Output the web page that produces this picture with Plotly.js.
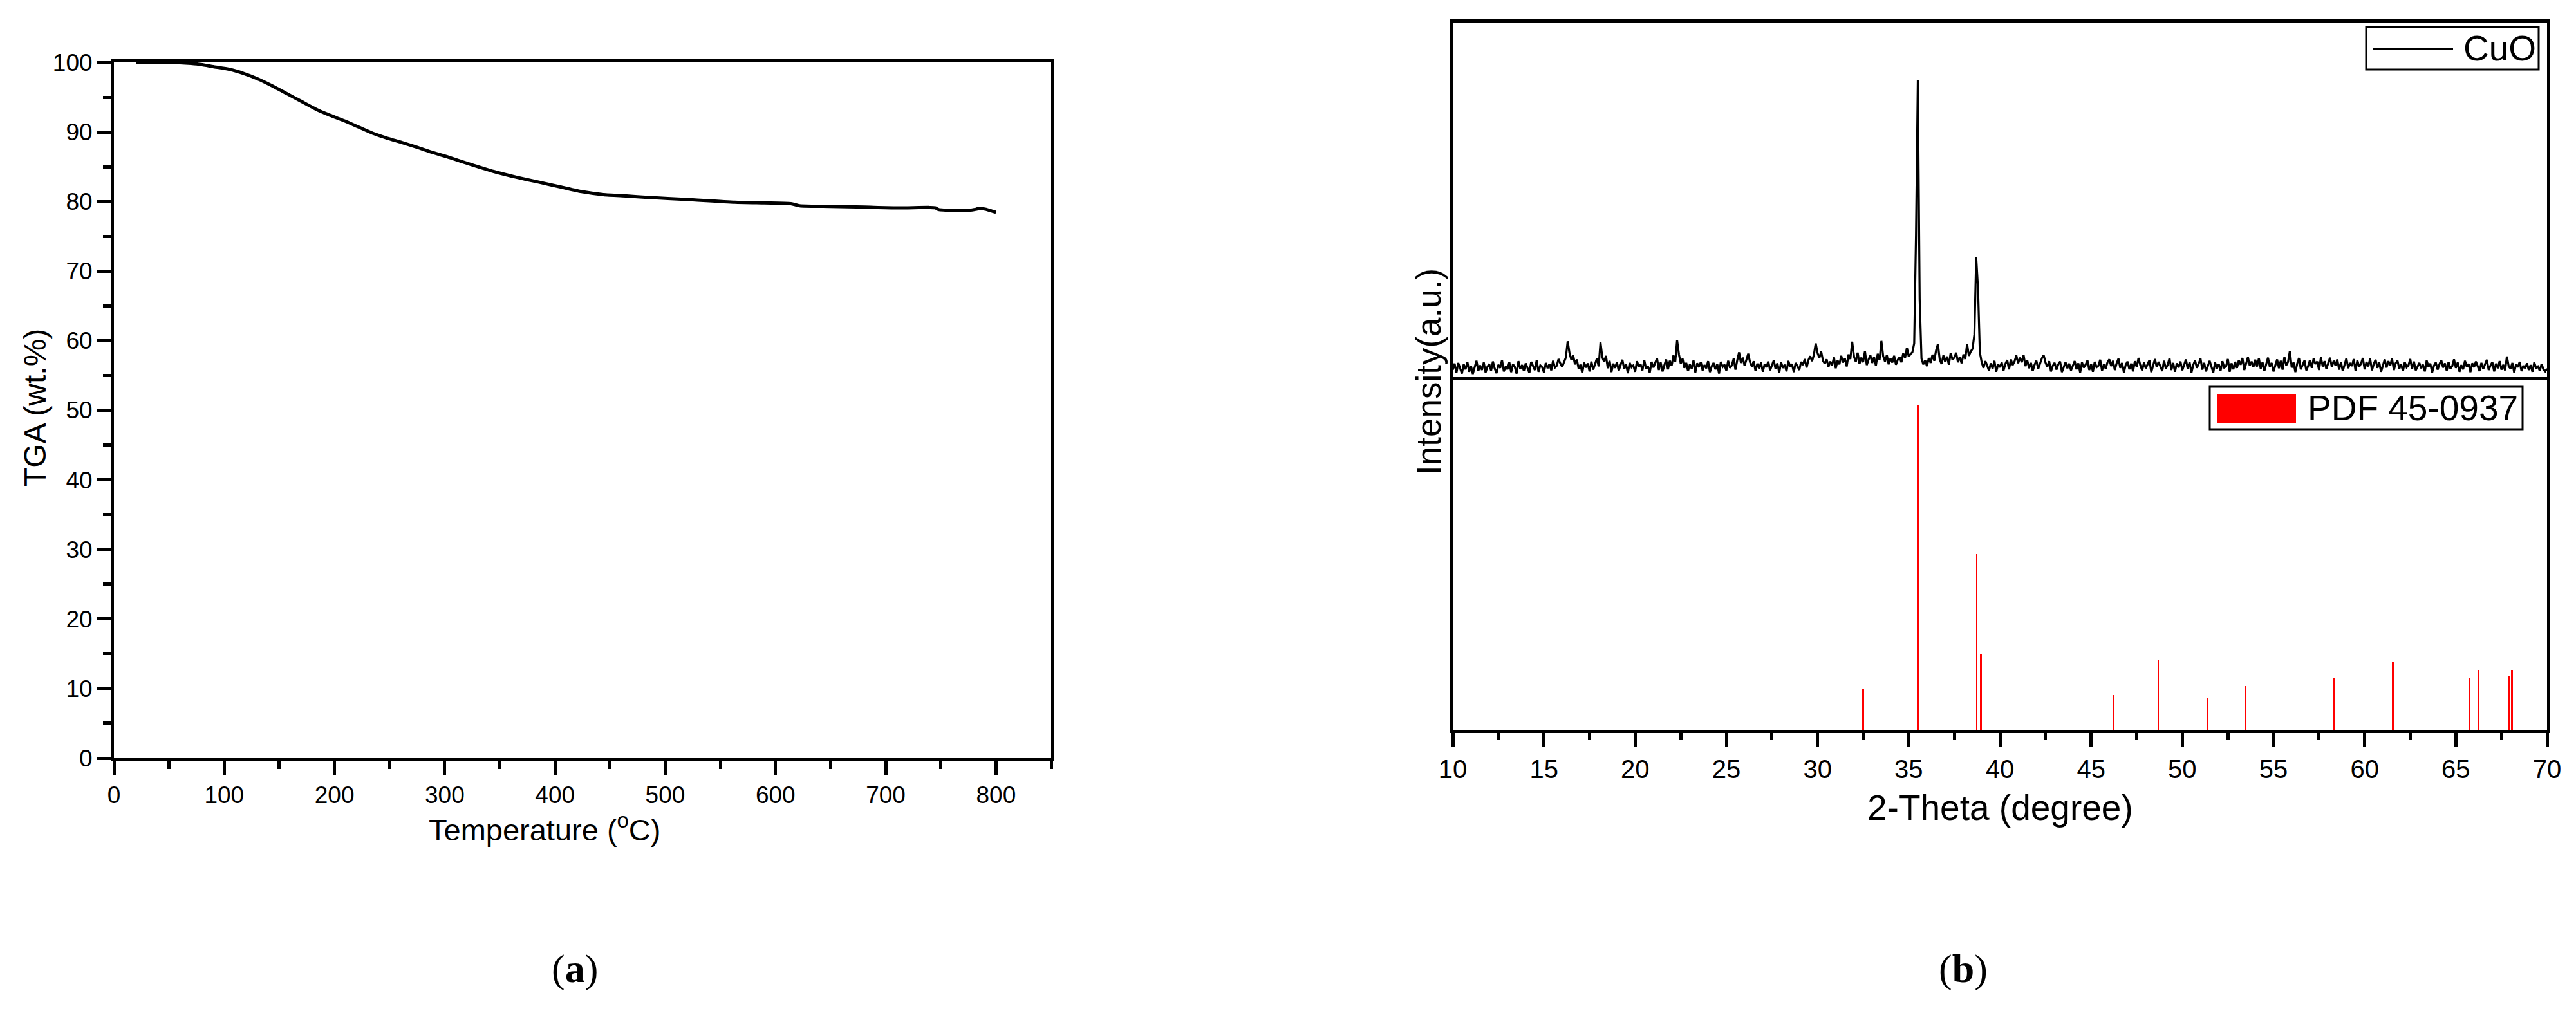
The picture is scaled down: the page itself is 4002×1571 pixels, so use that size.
<!DOCTYPE html>
<html>
<head>
<meta charset="utf-8">
<script src="https://cdn.plot.ly/plotly-3.0.1.min.js"></script>
<style>html,body{margin:0;padding:0;background:#fff;}#chart{width:4002px;height:1571px;}</style>
</head>
<body>
<div id="chart"></div>
<script>
// ---------- (a) TGA data ----------
const tgaTemperature = [20, 40, 60, 70, 79, 90, 105, 118, 131, 144, 157, 170, 183, 196, 209, 222, 235, 248, 261, 275, 288, 305, 326, 345, 365, 385, 405, 425, 444, 465, 484, 520, 563, 590, 614, 622, 650, 681, 710, 740, 745, 748, 776, 782, 786, 800];
const tgaWeight = [100, 100, 99.95, 99.85, 99.7, 99.4, 99.0, 98.4, 97.6, 96.6, 95.5, 94.4, 93.3, 92.4, 91.6, 90.7, 89.8, 89.1, 88.5, 87.8, 87.1, 86.3, 85.2, 84.3, 83.5, 82.8, 82.1, 81.4, 81.0, 80.8, 80.6, 80.3, 79.9, 79.8, 79.7, 79.4, 79.3, 79.2, 79.1, 79.15, 79.1, 78.85, 78.75, 78.9, 79.05, 78.45];

// ---------- (b) XRD data ----------
// measured CuO pattern: scan from 10 to 70 degrees 2-theta, step 0.1
const scanStart = 10;
const scanStep = 0.1;
const cuoIntensity = [
2.1,3.8,1.2,4.0,2.5,1.0,3.6,2.2,4.3,1.5,
3.1,0.9,2.8,4.6,1.7,3.3,2.0,4.1,1.3,2.9,
3.7,1.8,4.4,2.4,1.1,3.5,2.6,4.8,1.6,3.0,
2.2,4.2,1.4,3.6,2.9,1.0,4.5,2.3,3.4,1.7,
3.9,2.6,1.2,4.3,3.1,2.0,4.7,1.5,3.3,2.8,
1.3,4.0,2.5,3.7,1.9,4.6,2.7,3.2,5.1,3.8,
2.9,4.4,5.5,10.1,6.8,4.9,6.2,3.6,5.0,2.4,
3.5,1.2,4.1,2.7,3.9,1.6,4.4,2.1,3.6,5.2,
3.0,9.8,5.6,4.3,6.0,2.5,4.6,1.4,3.8,2.6,
4.2,1.8,3.4,4.9,2.3,3.7,1.1,4.0,2.8,3.3,
1.5,4.5,2.9,3.6,1.9,4.8,2.4,3.1,1.2,4.3,
2.7,3.9,5.3,2.0,4.1,1.6,3.5,5.0,2.2,4.6,
3.2,6.1,4.4,10.4,6.5,3.8,5.2,2.6,4.0,1.7,
3.6,2.4,4.7,1.3,3.9,2.8,4.2,1.9,3.4,2.5,
4.5,1.4,3.1,4.0,2.2,3.7,1.0,4.3,2.9,3.5,
1.8,4.6,2.6,3.3,5.2,2.1,4.8,7.0,4.0,5.5,
3.2,4.9,6.6,4.2,3.0,4.5,1.7,3.8,2.4,4.1,
1.5,3.6,2.8,4.4,1.9,3.3,4.7,2.3,3.9,1.2,
4.2,2.6,3.5,1.6,4.6,2.9,3.7,1.4,4.0,3.1,
2.0,4.3,3.4,5.1,2.7,4.8,5.9,4.5,6.3,9.5,
6.8,5.4,7.2,4.6,3.8,5.0,2.9,4.4,3.3,5.6,
2.5,4.7,3.6,6.0,4.1,5.3,3.0,6.4,5.1,10.0,
5.8,4.3,6.9,3.7,5.5,4.2,7.3,3.4,5.0,6.1,
4.0,5.7,3.2,6.6,4.8,10.2,5.9,4.4,6.2,3.6,
5.3,4.1,6.0,3.5,4.9,5.6,4.2,6.7,5.4,8.3,
5.8,6.5,7.0,9.5,40.0,83.7,22.0,5.2,3.6,4.8,
3.1,5.4,4.0,6.3,4.6,7.5,9.3,5.0,3.7,6.1,
4.3,5.8,3.5,6.8,4.9,5.5,6.9,4.2,5.7,3.9,
6.4,5.1,9.3,6.0,7.2,8.0,12.0,33.8,25.0,7.0,
4.2,2.6,4.5,3.3,1.8,3.9,2.4,4.6,1.5,3.6,
2.8,4.1,1.9,3.7,4.8,2.2,5.0,3.4,4.4,6.1,
3.9,5.5,4.2,6.2,3.1,4.7,2.5,4.0,1.7,3.5,
4.6,2.3,3.8,5.3,6.2,4.1,2.9,4.5,1.6,3.2,
4.0,2.1,3.6,4.4,1.4,3.0,4.2,2.5,3.8,1.9,
3.4,4.5,2.2,3.9,1.3,4.1,2.7,3.5,4.7,2.0,
3.7,1.5,4.3,2.8,3.2,4.9,1.8,3.6,2.4,4.2,
5.0,3.1,4.6,2.0,3.9,5.2,2.6,4.0,1.3,3.5,
4.4,2.2,3.8,1.6,4.5,2.9,5.4,3.3,1.9,4.1,
2.5,3.7,4.8,1.4,3.2,5.1,2.8,4.3,3.0,1.7,
4.6,2.4,3.5,5.3,2.0,4.0,1.5,3.9,2.7,4.4,
1.9,3.6,5.0,2.3,4.2,1.2,3.4,4.7,2.6,3.8,
5.2,2.1,4.0,1.6,3.3,4.6,2.9,1.3,4.1,2.4,
3.7,1.8,4.5,2.7,3.0,5.1,1.5,3.9,2.2,4.3,
2.6,4.8,3.5,5.4,2.0,4.1,5.6,3.2,4.4,2.8,
4.9,3.0,5.3,2.4,4.2,1.7,3.6,5.5,2.9,4.0,
1.6,3.4,5.0,2.5,4.6,2.1,5.7,3.3,4.3,7.4,
2.7,4.1,1.4,3.8,5.4,2.2,3.5,4.7,1.9,3.1,
4.8,2.6,5.2,3.7,4.4,2.0,5.6,3.0,4.5,2.3,
3.9,5.5,2.8,4.6,3.3,5.0,2.1,4.2,1.7,3.6,
5.3,2.5,4.0,3.1,5.1,1.8,4.7,2.9,3.8,5.4,
2.2,4.3,3.0,5.2,1.9,3.7,4.9,2.6,4.1,1.5,
3.4,5.0,2.7,4.5,3.2,5.3,2.0,3.9,4.6,2.4,
3.6,1.7,4.2,2.8,3.3,5.1,2.3,4.4,1.9,3.0,
4.0,2.5,3.5,1.6,4.7,2.9,3.8,1.3,3.2,4.1,
2.1,3.6,4.8,2.7,3.9,1.8,4.3,2.4,3.1,5.0,
2.6,4.1,1.5,3.4,2.2,4.6,2.9,3.7,1.4,3.9,
2.8,4.4,3.0,1.7,4.0,2.3,3.6,4.9,2.0,3.3,
4.2,1.6,3.8,2.5,4.5,2.1,3.5,1.9,5.8,3.0,
2.4,4.0,1.3,3.6,2.8,4.3,1.7,3.2,2.5,3.9,
2.0,3.4,1.5,4.1,2.6,3.0,1.8,3.7,2.2,1.6,
2.4];
const cuoTwoTheta = cuoIntensity.map((_, i) => +(scanStart + i * scanStep).toFixed(2));

// reference pattern PDF 45-0937
const pdfTwoTheta = [32.50, 35.50, 38.73, 38.95, 46.22, 48.69, 51.37, 53.46, 58.32, 61.54, 65.77, 66.23, 67.93, 68.07];
const pdfIntensity = [11.5, 92.0, 49.8, 21.4, 9.9, 19.9, 9.1, 12.4, 14.6, 19.2, 14.6, 17.0, 15.3, 17.0];

const seriesNames = ['CuO', 'PDF 45-0937'];
const panelLabels = ['a', 'b'];
const axisTitles = {
  tgaX: 'Temperature (<sup>o</sup>C)',
  tgaY: 'TGA (wt.%)',
  xrdX: '2-Theta (degree)',
  xrdY: 'Intensity(a.u.)'
};

// ---------- layout helpers (pixel -> paper) ----------
const W = 4002, H = 1571;
const px = x => x / W;
const py = y => 1 - y / H;
const SANS = 'Liberation Sans, Arial, sans-serif';
const SERIF = 'Liberation Serif, Times New Roman, serif';

const traces = [
  {x: tgaTemperature, y: tgaWeight, xaxis: 'x', yaxis: 'y', type: 'scatter', mode: 'lines',
   line: {color: '#000', width: 5, shape: 'spline', smoothing: 0.6}, showlegend: false, name: 'TGA'},
  {x: cuoTwoTheta, y: cuoIntensity, xaxis: 'x3', yaxis: 'y2', type: 'scatter', mode: 'lines',
   line: {color: '#000', width: 3.2}, showlegend: false, name: seriesNames[0]},
  {x: pdfTwoTheta, y: pdfIntensity, xaxis: 'x2', yaxis: 'y3', type: 'bar', width: 0.09,
   marker: {color: '#ff0000', line: {width: 0}}, showlegend: false, name: seriesNames[1]}
];

const axisBase = {showgrid: false, zeroline: false, showline: true, linecolor: '#000', linewidth: 5,
  mirror: true, tickcolor: '#000', tickwidth: 5, fixedrange: true};

const layout = {
  width: W, height: H, autosize: false,
  margin: {l: 0, r: 0, t: 0, b: 0, pad: 0},
  paper_bgcolor: '#fff', plot_bgcolor: 'rgba(0,0,0,0)',
  showlegend: false,
  bargap: 0,
  xaxis: Object.assign({}, axisBase, {
    domain: [px(177), px(1633)], anchor: 'y', range: [0, 850],
    ticks: 'outside', ticklen: 21, dtick: 100, tick0: 0,
    minor: {dtick: 50, tick0: 0, ticks: 'outside', ticklen: 12, tickwidth: 5, tickcolor: '#000', showgrid: false},
    tickfont: {family: SANS, size: 37, color: '#000'}
  }),
  yaxis: Object.assign({}, axisBase, {
    domain: [py(1178), py(97)], anchor: 'x', range: [0, 100],
    ticks: 'outside', ticklen: 21, dtick: 10, tick0: 0,
    minor: {dtick: 5, tick0: 0, ticks: 'outside', ticklen: 12, tickwidth: 5, tickcolor: '#000', showgrid: false},
    tickfont: {family: SANS, size: 37, color: '#000'}
  }),
  xaxis2: Object.assign({}, axisBase, {
    domain: [px(2257), px(3957)], anchor: 'y3', range: [10, 70], mirror: false,
    ticks: 'outside', ticklen: 22, dtick: 5, tick0: 10,
    minor: {dtick: 2.5, tick0: 10, ticks: 'outside', ticklen: 11, tickwidth: 5, tickcolor: '#000', showgrid: false},
    tickfont: {family: SANS, size: 40, color: '#000'}
  }),
  xaxis3: Object.assign({}, axisBase, {
    domain: [px(2257), px(3957)], anchor: 'y2', range: [10, 70], matches: 'x2',
    ticks: '', showticklabels: false
  }),
  yaxis2: Object.assign({}, axisBase, {
    domain: [py(586), py(35)], anchor: 'x3', range: [0, 100],
    ticks: '', showticklabels: false
  }),
  yaxis3: Object.assign({}, axisBase, {
    domain: [py(1134), py(586)], anchor: 'x2', range: [0, 100],
    ticks: '', showticklabels: false
  }),
  shapes: [
    // CuO legend
    {type: 'rect', xref: 'paper', yref: 'paper', x0: px(3676), x1: px(3944), y0: py(108), y1: py(42),
     line: {color: '#000', width: 3}, fillcolor: '#fff'},
    {type: 'line', xref: 'paper', yref: 'paper', x0: px(3686), x1: px(3811), y0: py(76), y1: py(76),
     line: {color: '#000', width: 3}},
    // PDF legend
    {type: 'rect', xref: 'paper', yref: 'paper', x0: px(3433), x1: px(3919), y0: py(667), y1: py(601),
     line: {color: '#000', width: 3}, fillcolor: '#fff'},
    {type: 'rect', xref: 'paper', yref: 'paper', x0: px(3444), x1: px(3567), y0: py(658), y1: py(612),
     line: {width: 0}, fillcolor: '#ff0000'}
  ],
  annotations: [
    {text: axisTitles.tgaX, xref: 'paper', yref: 'paper', x: px(846), y: py(1286), xanchor: 'center', yanchor: 'middle',
     showarrow: false, font: {family: SANS, size: 47, color: '#000'}},
    {text: axisTitles.tgaY, xref: 'paper', yref: 'paper', x: px(54), y: py(634), xanchor: 'center', yanchor: 'middle',
     textangle: -90, showarrow: false, font: {family: SANS, size: 48, color: '#000'}},
    {text: axisTitles.xrdX, xref: 'paper', yref: 'paper', x: px(3107), y: py(1255), xanchor: 'center', yanchor: 'middle',
     showarrow: false, font: {family: SANS, size: 55, color: '#000'}},
    {text: axisTitles.xrdY, xref: 'paper', yref: 'paper', x: px(2219), y: py(578), xanchor: 'center', yanchor: 'middle',
     textangle: -90, showarrow: false, font: {family: SANS, size: 53, color: '#000'}},
    {text: seriesNames[0], xref: 'paper', yref: 'paper', x: px(3825), y: py(75), xanchor: 'left', yanchor: 'middle',
     showarrow: false, font: {family: SANS, size: 55, color: '#000'}},
    {text: seriesNames[1], xref: 'paper', yref: 'paper', x: px(3583), y: py(634), xanchor: 'left', yanchor: 'middle',
     showarrow: false, font: {family: SANS, size: 55, color: '#000'}},
    {text: '(<b>' + panelLabels[0] + '</b>)', xref: 'paper', yref: 'paper', x: px(893), y: py(1505), xanchor: 'center', yanchor: 'middle',
     showarrow: false, font: {family: SERIF, size: 62, color: '#000'}},
    {text: '(<b>' + panelLabels[1] + '</b>)', xref: 'paper', yref: 'paper', x: px(3050), y: py(1505), xanchor: 'center', yanchor: 'middle',
     showarrow: false, font: {family: SERIF, size: 62, color: '#000'}}
  ]
};

Plotly.newPlot('chart', traces, layout, {staticPlot: true, displayModeBar: false});
</script>
</body>
</html>
